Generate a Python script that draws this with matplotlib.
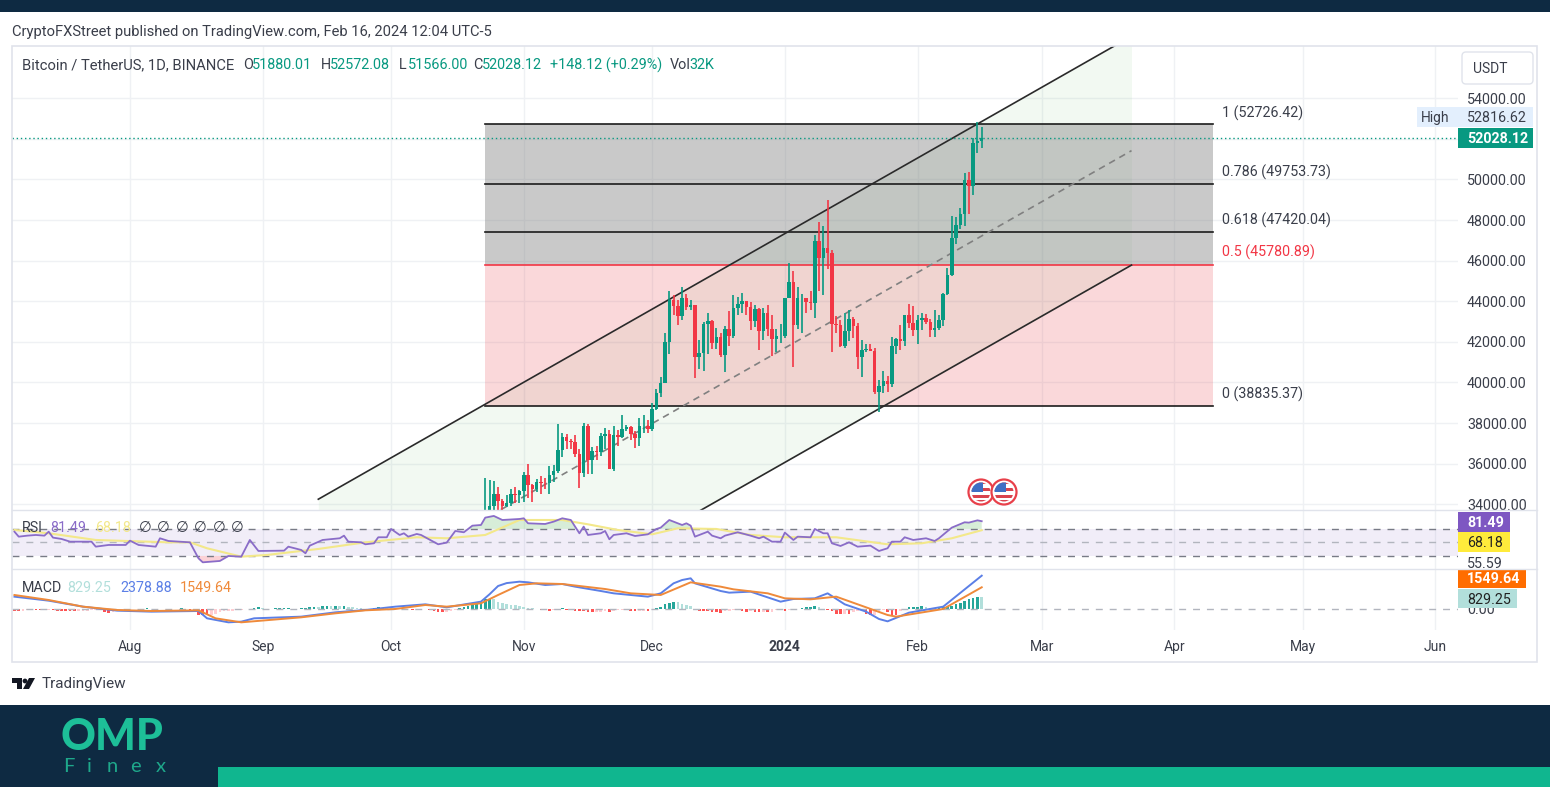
# BTC/USDT daily TradingView snapshot with fib zones, channel, RSI and MACD
import pandas as pd
import matplotlib
matplotlib.use("Agg")
import matplotlib.pyplot as plt
from matplotlib.patches import Rectangle, Circle, Polygon, FancyBboxPatch

plt.rcParams['font.family'] = ['Roboto', 'DejaVu Sans']

W, H = 1550, 787

# candles, one row per day from 2023-10-23 to 2024-02-16
opens = [29992,33069,33922,34496,34151,33892,34082,34525,34474,
 34639,35421,34938,34732,35082,35048,35037,35443,35655,36693,37314,37138,37064,36462,35551,37858,36163,36613,36568,37359,37448,35741,37409,37289,37720,37796,37479,37254,37832,37854,
 37723,38682,39457,39972,41991,44073,43763,43285,44180,43713,43789,41243,41450,42890,43023,41929,42240,41364,42623,42270,43652,43869,43997,43739,43016,43613,42520,43442,42628,42142,42283,
 42283,44179,44946,42845,44151,44162,43959,43930,46970,46139,46627,46368,42853,42842,41796,42511,43137,42776,41262,41618,41665,41545,39507,39845,40077,39933,41816,42120,42035,43300,42946,
 42570,43075,43185,42991,42583,42658,43084,44340,45293,47132,47751,48293,49958,49699,51795,51880]
highs = [35280,35200,35132,34824,34245,34470,34750,34856,34720,
 35575,35984,34990,35255,35380,35275,35892,35910,37972,37526,37437,37222,37408,36744,37980,37930,36800,36845,37500,37750,37650,37860,37653,38415,37890,37830,37590,38250,38400,38170,
 38999,39700,40250,42420,44488,44300,44047,44700,44366,44045,43804,42104,43000,43424,43088,42700,42437,42756,43496,44283,44230,44400,44015,43950,43800,43660,43680,43800,43300,42620,42900,
 44180,45879,45500,44700,44357,44176,44480,47248,47893,47695,48970,46515,43257,43079,43400,43578,43198,42930,42100,41870,41882,41689,40129,40555,40300,42225,42200,42842,43306,43882,43745,
 43300,43422,43380,43120,43550,43345,44389,45614,48200,48170,48592,50334,50368,52043,52816,52572]
lows = [29883,32800,33700,33666,33390,33850,33930,34050,34070,
 34097,34300,34112,34586,34525,34730,34525,35110,35548,36333,36700,36731,36333,34800,35360,35500,35511,36178,36390,36700,35750,35632,36870,37251,37600,37150,36750,36880,37500,37500,
 37615,38647,39280,39970,41414,43335,42821,43081,43583,43565,40222,40680,40555,41400,41666,41650,41250,40500,41800,42180,43330,43400,43300,42600,42750,41600,42100,42300,41300,41520,41960,
 42180,44148,40750,42630,42450,43400,43560,43176,44500,44300,45606,41500,42436,41720,41700,42050,42200,40683,40280,41500,41530,39431,38555,39484,39550,39760,41394,41620,41800,42683,42276,
 41884,42584,42880,42222,42258,42565,42788,44330,45242,46800,47557,47700,48300,49225,51314,51566]
closes = [33069,33922,34496,34151,33892,34082,34525,34474,34639,
 35421,34938,34732,35082,35048,35037,35443,35655,36693,37314,37138,37064,36462,35551,37858,36163,36613,36568,37359,37448,35741,37409,37289,37720,37796,37479,37254,37832,37854,37723,
 38682,39457,39972,41991,44073,43763,43285,44180,43713,43789,41243,41450,42890,43023,41929,42240,41364,42623,42270,43652,43869,43997,43739,43016,43613,42520,43442,42628,42142,42283,42283,
 44179,44946,42845,44151,44162,43959,43930,46970,46139,46627,46368,42853,42842,41796,42511,43137,42776,41262,41618,41665,41545,39507,39845,40077,39933,41816,42120,42035,43300,42946,42570,
 43075,43185,42991,42583,42658,43084,44340,45293,47132,47751,48293,49958,49699,51795,51880,52028.12]

# fib retracement
fib_levels = [52726.42, 49753.73, 47420.04, 45780.89, 38835.37]
fib_names = ['1', '0.786', '0.618', '0.5', '0']
fib_dates = ['2023-10-23', '2024-04-10']

# parallel channel, prices at its two ends
channel_dates = ['2023-09-14', '2024-03-22']
channel_upper = [34246, 57054]
channel_mid = [28613, 51417]
channel_lower = [22980, 45780]

price_ticks = [34000,36000,38000,40000,42000,44000,46000,48000,50000,52000,54000]
last_price = 52028.12

# RSI, day numbers count from 2023-08-01
rsi_days = [-27,-26,-24,-22,-20,-19,-18,-16,-14,-9,-8,-5,-1,0,2,6,7,9,14,16,17,21,23,26,28,30,36,37,40,41,42,45,49,50,51,54,55,57,58,60,61,63,64,65,67,68,72,74,76,78,80,82,83,85,87,
 91,92,93,97,99,101,103,105,106,107,110,111,112,113,116,118,121,123,124,126,129,130,131,132,135,136,138,139,142,145,147,148,150,152,153,155,156,159,160,162,163,164,166,168,170,173,175,177,178,180,181,183,186,188,189,192,195,196,198,199]
rsi_vals = [66,58.6,60.1,61.1,60.1,66,57.2,55.2,51.2,51.2,43.8,46.3,46.3,52.7,46.3,43.8,56.2,52.2,50.2,26.5,20.6,22.6,30,29,53.7,37.4,37.9,43.8,38.9,34,45.3,53.7,56.2,60.1,51.2,50.2,47.3,48.8,57.7,57.7,70,61.1,63.6,58.6,62.6,61.1,47.3,49.8,67,65.1,74.9,75.9,86.8,89.3,83.3,
 84.8,85.8,78.4,77.4,80.9,85.8,83.3,63.6,73.5,61.1,63.6,67,54.7,61.1,63.6,59.6,62.1,70,72,83.3,75.9,78.4,74.9,58.6,66,60.1,56.2,60.1,65.1,60.1,56.2,58.6,51.2,51.2,64.6,53.7,58.6,57.7,70,63.6,63.6,48.8,44.8,50.2,43.8,45.3,37.4,41.4,51.2,51.2,57.7,53.7,56.2,52.2,56.2,72,79.9,79.4,82.8,81.49]
rsi_ma_days = [-27,-19,-8,9,14,18,26,32,44,55,67,74,83,91,101,107,114,122,128,137,145,153,165,177,185,192,199]
rsi_ma_vals = [68.5,63.6,53.7,50.2,50.2,41.4,29,31.5,40.4,50.2,57.7,56.2,61.1,83.3,83.3,76.9,68.5,62.1,71,70,61.1,57.7,57.7,47.3,48.8,56.2,68.18]

# MACD
macd_days = [-27,-19,-11,-3,5,16,18,23,26,29,40,48,55,62,69,74,82,84,86,88,91,93,97,101,104,110,113,121,124,127,129,131,132,138,140,145,152,155,160,163,167,172,175,177,182,190,199]
macd_vals = [880,595,167,-119,-190,-143,-666,-952,-904,-666,-547,-238,-71,167,333,119,524,1050,1642,1850,1952,1904,1714,1785,1595,1285,1119,881,1119,1833,2070,2190,1833,1285,1166,1238,524,714,762,1119,333,-190,-714,-881,-262,167,2378.88]
signal_days = [-27,-19,-11,-3,5,16,20,26,40,48,55,62,69,74,82,86,91,95,101,111,117,124,131,138,141,149,153,159,165,177,179,190,199]
signal_vals = [1000,643,167,-71,-143,-95,-666,-952,-595,-309,-95,0,286,167,405,1000,1714,1833,1785,1428,1119,1000,1904,1595,1404,1119,762,690,881,-428,-547,0,1549.64]
# histogram, one value per day, last one on 2024-02-16
hist_vals = [-100,-110,-120,-110,-90,-80,-90,-100,-90,-70,
 -90,-110,-120,-130,-140,-150,-150,-130,-110,-80,
 -60,-50,-200,-260,-250,-160,-80,-50,-20,10,
 20,30,40,-20,-30,-20,-10,30,30,20,
 40,-10,-50,-200,-420,-430,-440,-400,-330,-200,
 -170,-150,-110,-60,-40,-20,10,60,110,80,
 30,20,40,60,60,90,30,-20,40,90,
 110,150,130,180,200,180,220,210,230,150,
 120,80,50,-20,30,80,120,100,90,70,
 40,50,-10,-30,-40,30,-60,-30,-80,-150,
 -200,-230,-210,-120,-50,70,120,210,320,430,
 570,680,700,690,520,440,380,310,290,210,
 160,80,40,-30,-60,-100,-110,-90,-20,50,
 -40,-100,-110,-150,-170,-200,-220,-210,-190,-170,
 -230,-140,-90,-70,-60,-150,-170,-140,-110,-120,
 -30,70,120,330,460,510,470,350,290,180,
 -60,-110,-130,-150,-220,-240,-280,-170,-150,-90,
 -60,-120,-180,-170,-200,-230,-230,-240,-200,-40,
 -50,-130,-50,-20,-20,40,110,170,190,120,
 30,-60,-140,-330,-380,-350,-360,-190,-120,-110,
 -350,-450,-440,-120,-90,-200,-430,-450,-110,-60,
 110,170,170,180,160,100,90,100,110,170,
 240,340,440,560,680,790,860,829.25]

month_ticks = ['2023-08-01','2023-09-01','2023-10-01','2023-11-01','2023-12-01','2024-01-01','2024-02-01','2024-03-01','2024-04-01','2024-05-01','2024-06-01']
month_labels = ['Aug','Sep','Oct','Nov','Dec','2024','Feb','Mar','Apr','May','Jun']

UP = '#089981'
DOWN = '#f23645'
NAVY = '#0e2a42'
TEAL = '#10b68f'
GRID = '#eff1f4'
TXT = '#3a3e4a'

PX_DAY = 4.28
aug1 = pd.Timestamp('2023-08-01')


def to_dates(days):
    return [aug1 + pd.Timedelta(days=d) for d in days]


def pane(top, bottom):
    # axes between two pixel rows, all panes share the same time scale
    a = fig.add_axes([12 / W, 1 - bottom / H, (1458 - 12) / W, (bottom - top) / H])
    a.set_xlim(aug1 + pd.Timedelta(days=(12 - 130) / PX_DAY), aug1 + pd.Timedelta(days=(1458 - 130) / PX_DAY))
    for s in a.spines.values():
        s.set_visible(False)
    a.set_xticks(pd.to_datetime(month_ticks))
    a.set_xticklabels([])
    a.tick_params(length=0)
    a.grid(axis='x', color=GRID, lw=1)
    a.set_axisbelow(True)
    a.yaxis.tick_right()
    return a


fig = plt.figure(figsize=(W / 100, H / 100), dpi=100, facecolor='white')

# main pane
ax = pane(46, 510)
ax.set_ylim(33715, 56572)
ax.set_yticks(price_ticks)
ax.set_yticklabels(['%.2f' % p for p in price_ticks], fontsize=10.3, color=TXT)
ax.tick_params(axis='y', pad=6.5)
ax.grid(axis='y', color=GRID, lw=1)

cd = pd.to_datetime(channel_dates)
ax.fill_between(cd, channel_lower, channel_upper, color='#4caf50', alpha=0.07, lw=0, zorder=1)
fd = pd.to_datetime(fib_dates)
ax.fill_between(fd, fib_levels[3], fib_levels[0], color='#808080', alpha=0.42, lw=0, zorder=1)
ax.fill_between(fd, fib_levels[4], fib_levels[3], color='#e8404a', alpha=0.2, lw=0, zorder=1)
for lev, name in zip(fib_levels, fib_names):
    c = DOWN if name == '0.5' else '#1c1c1c'
    ax.plot(fd, [lev, lev], color=c, lw=1.2, zorder=2)
ax.plot(cd, channel_upper, color='#2a2a2a', lw=1.2, zorder=2)
ax.plot(cd, channel_lower, color='#2a2a2a', lw=1.2, zorder=2)
ax.plot(cd, channel_mid, color='#808080', lw=1.2, ls=(0, (4, 3)), zorder=2)
ax.axhline(last_price, color=UP, lw=1, ls=(0, (1, 2)), zorder=2)

dates = pd.date_range('2023-10-23', periods=len(opens), freq='D')
colors = [UP if c >= o else DOWN for o, c in zip(opens, closes)]
ax.vlines(dates, lows, highs, colors=colors, lw=1.2, zorder=3)
ax.bar(dates, [abs(c - o) for o, c in zip(opens, closes)], bottom=[min(o, c) for o, c in zip(opens, closes)],
       width=0.82, color=colors, lw=0, zorder=4)

# RSI pane
ax2 = pane(510, 569)
ax2.set_ylim(10.7, 98.1)
ax2.set_yticks([])
ax2.axhspan(30, 70, color='#7e57c2', alpha=0.1, lw=0)
ax2.axhline(70, color='#787b86', lw=1, ls=(0, (5, 5)))
ax2.axhline(50, color='#b2b5be', lw=1, ls=(0, (5, 5)))
ax2.axhline(30, color='#787b86', lw=1, ls=(0, (5, 5)))
rd = to_dates(rsi_days)
ax2.fill_between(rd, 70, rsi_vals, where=[v > 70 for v in rsi_vals], interpolate=True, color='#4caf50', alpha=0.22, lw=0)
ax2.fill_between(rd, 30, rsi_vals, where=[v < 30 for v in rsi_vals], interpolate=True, color=DOWN, alpha=0.22, lw=0)
ax2.plot(to_dates(rsi_ma_days), rsi_ma_vals, color='#f3e88a', lw=1.5)
ax2.plot(rd, rsi_vals, color='#8a6cc8', lw=1.3)

# MACD pane
ax3 = pane(569, 630)
ax3.set_ylim(-1500, 2856)
ax3.set_yticks([0])
ax3.set_yticklabels(['0.00'], fontsize=10.3, color=TXT)
ax3.tick_params(axis='y', pad=6.5)
ax3.axhline(0, color='#b2b5be', lw=1, ls=(0, (5, 5)))
hist_dates = pd.date_range(end='2024-02-16', periods=len(hist_vals), freq='D')
hist_colors = []
for i, v in enumerate(hist_vals):
    prev = hist_vals[i - 1] if i else v
    if v >= 0:
        hist_colors.append('#26a69a' if v >= prev else '#b2dfdb')
    else:
        hist_colors.append('#ffcdd2' if v >= prev else '#ff5252')
ax3.bar(hist_dates, hist_vals, width=0.62, color=hist_colors, lw=0)
ax3.plot(to_dates(macd_days), macd_vals, color='#5b7fe6', lw=1.4)
ax3.plot(to_dates(signal_days), signal_vals, color='#ef8a3a', lw=1.4)
ax3.set_xticklabels(month_labels, fontsize=10, color=TXT)
ax3.get_xticklabels()[5].set_fontweight('bold')
ax3.tick_params(axis='x', pad=7.5)

# chrome on top, in pixel coordinates
ov = fig.add_axes([0, 0, 1, 1], zorder=10)
ov.set_xlim(0, W)
ov.set_ylim(H, 0)
ov.axis('off')
ov.patch.set_alpha(0)


def box(l, t, r, b, c, **kw):
    p = Rectangle((l, t), r - l, b - t, facecolor=c, lw=0, **kw)
    ov.add_patch(p)
    return p


def label(x, y, s, c=TXT, size=10, ha='left', **kw):
    ov.text(x, y + 1, s, color=c, fontsize=size, ha=ha, va='center', **kw)


box(0, 0, W, 12, NAVY)
box(0, 705, W, H, NAVY)
box(218, 767, W, H, TEAL)
ov.add_patch(Rectangle((12, 46), 1525, 616, fill=False, edgecolor='#e0e3eb', lw=1.2))
ov.plot([12, 1537], [510, 510], color='#e0e3eb', lw=1)
ov.plot([12, 1537], [569, 569], color='#e0e3eb', lw=1)

label(12, 31, 'CryptoFXStreet published on TradingView.com, Feb 16, 2024 12:04 UTC-5', size=10.6)
label(22, 64, 'Bitcoin / TetherUS, 1D, BINANCE', size=10.6)
for x, k, v in [(243, 'O', '51880.01'), (321, 'H', '52572.08'), (399, 'L', '51566.00'), (473, 'C', '52028.12')]:
    label(x, 64, k, size=10.4)
    label(x + 9, 64, v, UP, size=10.4)
label(550, 64, '+148.12 (+0.29%)', UP, size=10.4)
label(670, 64, 'Vol', size=10.4)
label(689, 64, '32K', UP, size=10.4)

# fib level labels
for y, name, lev in zip([112, 171, 219, 251, 393], fib_names, fib_levels):
    label(1222, y, '%s (%.2f)' % (name, lev), DOWN if name == '0.5' else TXT, size=10.3)

# price scale tags
ov.add_patch(FancyBboxPatch((1464, 54), 67, 28, boxstyle='round,pad=2,rounding_size=4', facecolor='white', edgecolor='#e0e3eb', lw=1))
label(1473, 68, 'USDT', size=10)
box(1417, 107, 1533, 127, '#e3effd')
label(1421, 117, 'High', size=10)
label(1467, 117, '52816.62', size=10.3)
box(1458, 128, 1533, 148, UP)
label(1467, 138, '%.2f' % last_price, 'white', size=10.3, fontweight='bold')
box(1458, 512, 1510, 532, '#7e57c2')
label(1467, 522, '81.49', 'white', size=10.3, fontweight='bold')
box(1458, 532, 1510, 552, '#ffeb3b')
label(1467, 542, '68.18', '#222222', size=10.3)
label(1467, 563, '55.59', size=10.3)
box(1458, 570, 1526, 588, '#ff6d00')
label(1467, 578, '1549.64', 'white', size=10.3, fontweight='bold')
box(1458, 589, 1517, 608, '#b2dfdb')
label(1467, 599, '829.25', '#222222', size=10.3)

# pane legends
label(22, 527, 'RSI', size=10.3)
label(50, 527, '81.49', '#8a6cc8', size=10.3)
label(95, 527, '68.18', '#f3e88a', size=10.3)
for x in [145, 163, 182, 200, 219, 237]:
    label(x, 527, '\u2205', TXT, size=10.5, ha='center')
label(22, 587, 'MACD', size=10.3)
label(67, 587, '829.25', '#b2dfdb', size=10.3)
label(120, 587, '2378.88', '#5b7fe6', size=10.3)
label(180, 587, '1549.64', '#ef8a3a', size=10.3)

# economic calendar flags
for cx in [981, 1004]:
    ov.add_patch(Circle((cx, 492), 12.5, facecolor='white', edgecolor='#e8404a', lw=1.6))
    clip = Circle((cx, 492), 9.5, transform=ov.transData)
    for t, b, c in [(482, 484, '#d9434e'), (488, 491, '#d9434e'), (495, 498, '#d9434e'), (500, 503, '#d9434e')]:
        box(cx - 10, t, cx + 10, b, c).set_clip_path(clip)
    box(cx - 10, 482, cx + 2, 492, '#3f6fc4').set_clip_path(clip)

# TradingView logo
ov.add_patch(Polygon([(12, 678), (22, 678), (22, 689), (17, 689), (17, 683), (12, 683)], facecolor='#131722', lw=0))
ov.add_patch(Circle((25, 681), 2.4, facecolor='#131722', lw=0))
ov.add_patch(Polygon([(29, 678), (35, 678), (29, 689), (23, 689)], facecolor='#131722', lw=0))
label(42, 683, 'TradingView', size=11)

# OMP logo
label(61, 736, 'OMP', '#1dbf98', size=31, family=['Lato', 'DejaVu Sans'], fontweight='black')
for x, ch in zip([63, 87, 107, 130, 156], 'Finex'):
    label(x, 765, ch, '#1ea88b', size=14.5, family=['Lato', 'DejaVu Sans'])

fig.savefig('out.png', dpi=100)
